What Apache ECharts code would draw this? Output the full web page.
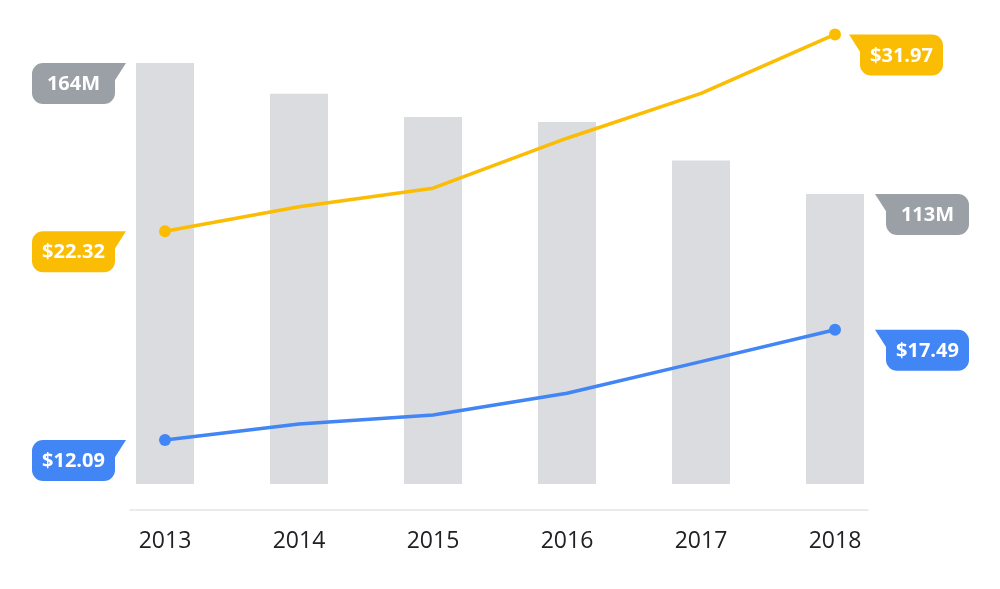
<!DOCTYPE html>
<html>
<head>
<meta charset="utf-8">
<script src="https://cdn.jsdelivr.net/npm/echarts@6/dist/echarts.min.js"></script>
<style>
  html, body { margin: 0; padding: 0; background: #fff; }
  #chart { width: 1000px; height: 589px; }
</style>
</head>
<body>
<div id="chart"></div>
<script>
//--------------------Data--------------------
let years = ['2013', '2014', '2015', '2016', '2017', '2018'];
let volume_m = [164, 152, 143, 141, 126, 113];              // grey bars, millions
let price_high = [22.32, 23.52, 24.43, 26.88, 29.08, 31.97]; // yellow line
let price_low = [12.09, 12.87, 13.31, 14.38, 15.93, 17.49];  // blue line

//--------------------Colours--------------------
let col_bar = '#DADCE0';
let col_grey = '#9AA0A6';
let col_yellow = '#FBBC04';
let col_blue = '#4285F4';
let font_family = '"Open Sans", "Noto Sans", sans-serif';

let bar_width = 58;

// callouts: which point, which side of the bar, how far the tab sits from the point
let volume_callouts = [
    {idx: 0, side: 'left', gap: 39, color: col_grey, text: volume_m[0] + 'M'},
    {idx: 5, side: 'right', gap: 40, color: col_grey, text: volume_m[5] + 'M'}
];
let price_callouts = [
    {idx: 0, side: 'left', gap: 39, color: col_yellow, text: '$' + price_high[0].toFixed(2), val: price_high[0]},
    {idx: 5, side: 'right', gap: 14, color: col_yellow, text: '$' + price_high[5].toFixed(2), val: price_high[5]},
    {idx: 0, side: 'left', gap: 39, color: col_blue, text: '$' + price_low[0].toFixed(2), val: price_low[0]},
    {idx: 5, side: 'right', gap: 40, color: col_blue, text: '$' + price_low[5].toFixed(2), val: price_low[5]}
];

// Get dom in html
let chart_dom = document.getElementById('chart');
let chart = echarts.init(chart_dom);

//---------------------Callout shape---------------------
function render_callout(list) {
    return function (params, api) {
        let c = list[params.dataIndex];
        let pt = api.coord([api.value(0), api.value(1)]);
        let w = 83, h = 41, r = 11, tab = 11, tab_h = 18;
        let top = pt[1];
        let tip, rx;
        let children = [];
        if (c.side === 'left') {
            tip = pt[0] - c.gap;
            rx = tip - tab - w;
            children.push({type: 'rect', shape: {x: rx, y: top, width: w, height: h, r: [r, 0, r, r]}, style: {fill: c.color}});
            children.push({type: 'polygon', shape: {points: [[rx + w - 0.5, top], [tip, top], [rx + w - 0.5, top + tab_h]]}, style: {fill: c.color}});
        } else {
            tip = pt[0] + c.gap;
            rx = tip + tab;
            children.push({type: 'rect', shape: {x: rx, y: top, width: w, height: h, r: [0, r, r, r]}, style: {fill: c.color}});
            children.push({type: 'polygon', shape: {points: [[rx + 0.5, top], [tip, top], [rx + 0.5, top + tab_h]]}, style: {fill: c.color}});
        }
        children.push({
            type: 'text',
            style: {
                text: c.text, x: rx + w / 2, y: top + h / 2 + 1,
                fill: '#fff', align: 'center', verticalAlign: 'middle',
                font: 'bold 20px ' + font_family
            }
        });
        return {type: 'group', children: children};
    };
}

//---------------------Series---------------------
let bar_series = {
    type: 'bar',
    name: 'volume',
    xAxisIndex: 0,
    yAxisIndex: 0,
    barWidth: bar_width,
    itemStyle: {color: col_bar},
    silent: true,
    data: volume_m
};
function line_series(name, values, color) {
    return {
        type: 'line',
        name: name,
        xAxisIndex: 0,
        yAxisIndex: 1,
        data: values,
        symbol: 'circle',
        symbolSize: function (v, p) {
            return (p.dataIndex === 0 || p.dataIndex === values.length - 1) ? 12 : 0;
        },
        showAllSymbol: true,
        lineStyle: {color: color, width: 3.5},
        itemStyle: {color: color},
        silent: true,
        z: 3
    };
}
let volume_callout_series = {
    type: 'custom',
    xAxisIndex: 0,
    yAxisIndex: 0,
    clip: false,
    silent: true,
    z: 5,
    renderItem: render_callout(volume_callouts),
    data: volume_callouts.map(c => [c.idx, volume_m[c.idx]])
};
let price_callout_series = {
    type: 'custom',
    xAxisIndex: 0,
    yAxisIndex: 1,
    clip: false,
    silent: true,
    z: 5,
    renderItem: render_callout(price_callouts),
    data: price_callouts.map(c => [c.idx, c.val])
};

//------------------Generate Graph------------------
let chart_option = {
    backgroundColor: '#fff',
    animation: false,
    grid: [
        {left: 98, right: 98, top: 24, bottom: 105},
        // thin grid carrying only the baseline rule
        {left: 130, right: 132, top: 509, height: 1}
    ],
    xAxis: [
        {
            type: 'category',
            gridIndex: 0,
            data: years,
            boundaryGap: true,
            axisLine: {show: false},
            axisTick: {show: false},
            axisLabel: {
                margin: 46,
                fontSize: 23,
                color: '#202124',
                fontFamily: font_family
            }
        },
        {
            type: 'value',
            gridIndex: 1,
            axisLine: {show: true, onZero: false, lineStyle: {color: '#E3E5E8', width: 1.5}},
            axisTick: {show: false},
            axisLabel: {show: false},
            splitLine: {show: false}
        }
    ],
    yAxis: [
        {type: 'value', gridIndex: 0, min: 0, max: 179.2, show: false},
        {type: 'value', gridIndex: 0, min: 9.93, max: 32.48, show: false},
        {type: 'value', gridIndex: 1, show: false}
    ],
    series: [
        bar_series,
        line_series('high', price_high, col_yellow),
        line_series('low', price_low, col_blue),
        volume_callout_series,
        price_callout_series
    ]
};
if (chart_option && typeof chart_option === 'object') {
    chart.setOption(chart_option, true);
}
</script>
</body>
</html>
